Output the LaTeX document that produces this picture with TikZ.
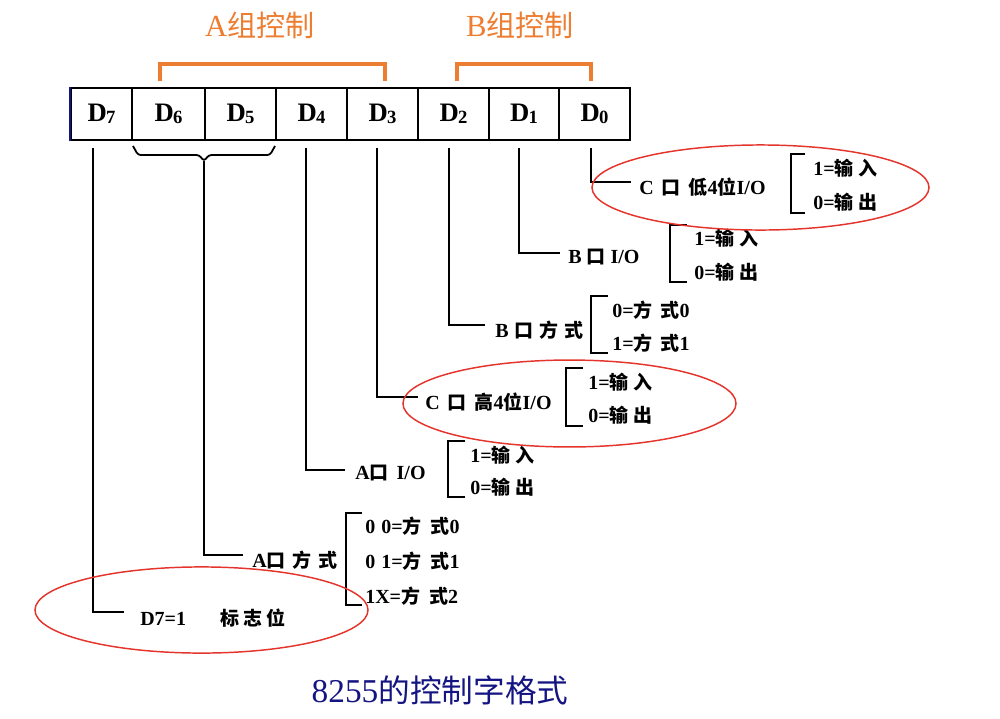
\documentclass[tikz,border=0pt]{standalone}
\usepackage{fontspec}
\setmainfont{Liberation Serif}
\newfontfamily\cjk{Noto Sans CJK SC}[Scale=0.95]
\usetikzlibrary{calc}
\definecolor{orng}{RGB}{237,125,49}
\definecolor{redl}{RGB}{228,52,44}
\definecolor{navyc}{RGB}{20,20,130}
\newcommand{\zc}[1]{{\cjk #1}}
\newcommand{\sps}[1][0.4em]{\hspace{#1}}
\newcommand{\dd}[1]{\textbf{D}\kern-0.5pt\raisebox{-1.8pt}{\fontsize{14}{14}\selectfont\bfseries #1}}
\tikzset{
  cell/.style={draw, line width=1.4pt, minimum height=39pt, inner sep=0pt, font=\fontsize{20}{20}\selectfont},
  conn/.style={line width=1.35pt},
  brk/.style={line width=1.35pt},
  lbl/.style={anchor=west, inner sep=0pt, font=\fontsize{15}{15}\selectfont\bfseries},
  opt/.style={anchor=west, inner sep=0pt, font=\fontsize{15}{15}\selectfont\bfseries},
  obr/.style={draw=orng, line width=2.3pt},
  otitle/.style={text=orng, font=\fontsize{23}{23}\selectfont},
  ell/.style={draw=redl, line width=1.1pt},
}
\begin{document}
\begin{tikzpicture}[x=0.75pt,y=-0.75pt]
\useasboundingbox (0,0) rectangle (1000,718);
% register cells
\node[cell, minimum width=45.75pt] (c7) at (101.5,114) {\dd{7}};
\node[cell, minimum width=54.75pt] (c6) at (168.5,114) {\dd{6}};
\node[cell, minimum width=53.25pt] (c5) at (240.5,114) {\dd{5}};
\node[cell, minimum width=53.25pt] (c4) at (311.5,114) {\dd{4}};
\node[cell, minimum width=53.25pt] (c3) at (382.5,114) {\dd{3}};
\node[cell, minimum width=53.25pt] (c2) at (453.5,114) {\dd{2}};
\node[cell, minimum width=52.5pt] (c1) at (524,114) {\dd{1}};
\node[cell, minimum width=53.25pt] (c0) at (594.5,114) {\dd{0}};
\draw[navyc, line width=1pt] (c7.north west) -- (c7.south west);
% orange group brackets and titles
\draw[obr] (160,81) -- (160,64) -- (385,64) -- (385,81);
\draw[obr] (457,81) -- (457,64) -- (591,64) -- (591,81);
\node[otitle] (tA) at (260,25) {A\zc{组控制}};
\node[otitle] (tB) at (520,25) {B\zc{组控制}};
% brace under D6 D5
\draw[conn, rounded corners=2pt] (133,146) -- (138,155) -- (199,155) -- (204,161) -- (209,155) -- (270,155) -- (275,146);
\coordinate (bt) at (204,161);
% labels
\node[lbl] (lcl) at (639,187) {C\sps\zc{口}\sps\zc{低}4\zc{位}I/O};
\node[lbl] (lbio) at (568,257) {B\sps[0.25em]\zc{口}\sps[0.25em]I/O};
\node[lbl] (lbm) at (495,330) {B\sps[0.3em]\zc{口}\sps[0.3em]\zc{方}\sps[0.3em]\zc{式}};
\node[lbl] (lch) at (425,402) {C\sps\zc{口}\sps\zc{高}4\zc{位}I/O};
\node[lbl] (laio) at (355,473) {A\zc{口}\sps[0.4em]I/O};
\node[lbl] (lam) at (252,560) {A\zc{口}\sps[0.35em]\zc{方}\sps[0.35em]\zc{式}};
\node[lbl] (ld7) at (140,618) {D7=1\hspace{1.7em}\zc{标}\sps[0.2em]\zc{志}\sps[0.2em]\zc{位}};
% connectors
\draw[conn] ($(c0.south)+(-3.5,7)$) |- ($(lcl.west)+(-8,-5)$);
\draw[conn] ($(c1.south)+(-5,7)$) |- ($(lbio.west)+(-8,-4)$);
\draw[conn] ($(c2.south)+(-4.5,7)$) |- ($(lbm.west)+(-10,-5)$);
\draw[conn] ($(c3.south)+(-5.5,7)$) |- ($(lch.west)+(-7,-5)$);
\draw[conn] ($(c4.south)+(-5.5,7)$) |- ($(laio.west)+(-10,-3)$);
\draw[conn] (bt) |- ($(lam.west)+(-9,-5)$);
\draw[conn] ($(c7.south)+(-8.5,7)$) |- ($(ld7.west)+(-16,-6)$);
% option brackets
\draw[brk] (805,154) -- (791,154) -- (791,213) -- (805,213);
\draw[brk] (687,225) -- (670,225) -- (670,282) -- (687,282);
\draw[brk] (608,296) -- (591,296) -- (591,353) -- (608,353);
\draw[brk] (583,368) -- (566,368) -- (566,426) -- (583,426);
\draw[brk] (465,441) -- (448,441) -- (448,497) -- (465,497);
\draw[brk] (362,513) -- (346,513) -- (346,605) -- (362,605);
% options
\node[opt] (o1a) at (813,168) {1=\zc{输}\sps[0.25em]\zc{入}};
\node[opt] (o1b) at (813,202) {0=\zc{输}\sps[0.25em]\zc{出}};
\node[opt] (o2a) at (694,238) {1=\zc{输}\sps[0.25em]\zc{入}};
\node[opt] (o2b) at (694,272) {0=\zc{输}\sps[0.25em]\zc{出}};
\node[opt] (o3a) at (612,310) {0=\zc{方}\sps\zc{式}0};
\node[opt] (o3b) at (612,343) {1=\zc{方}\sps\zc{式}1};
\node[opt] (o4a) at (588,382) {1=\zc{输}\sps[0.25em]\zc{入}};
\node[opt] (o4b) at (588,415) {0=\zc{输}\sps[0.25em]\zc{出}};
\node[opt] (o5a) at (470,455) {1=\zc{输}\sps[0.25em]\zc{入}};
\node[opt] (o5b) at (470,487) {0=\zc{输}\sps[0.25em]\zc{出}};
\node[opt] (o6a) at (365,526) {0\sps[0.3em]0=\zc{方}\sps[0.45em]\zc{式}0};
\node[opt] (o6b) at (365,561) {0\sps[0.3em]1=\zc{方}\sps[0.45em]\zc{式}1};
\node[opt] (o6c) at (365,596) {1X=\zc{方}\sps[0.45em]\zc{式}2};
% red ellipses
\draw[ell] (760.5,187.5) ellipse [x radius=126.4pt, y radius=31.9pt];
\draw[ell] (569.5,403.5) ellipse [x radius=124.9pt, y radius=32.6pt];
\draw[ell] (201.5,610) ellipse [x radius=124.9pt, y radius=32.3pt];
% caption
\node[text=navyc, font=\fontsize{25}{25}\selectfont] (cap) at (440,690) {8255\zc{的控制字格式}};
\end{tikzpicture}
\end{document}
